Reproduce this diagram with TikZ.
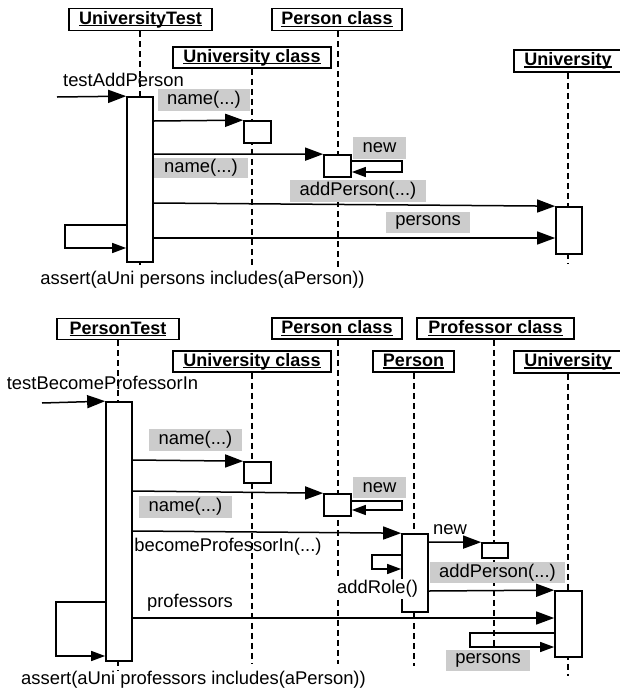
\documentclass[tikz,border=0pt]{standalone}
\usepackage{fontspec}
\setmainfont{Liberation Sans}
\usetikzlibrary{arrows.meta}
\newcommand\txtfont{\fontsize{18.4}{20}\selectfont}
\newcommand\hul[1]{\setbox0\hbox{#1}\rlap{\rule[-2.2pt]{\wd0}{1.4pt}}\box0}
\begin{document}
\begin{tikzpicture}[x=1pt,y=-1pt,
  hdr/.style={draw, line width=1.7pt, fill=white, inner sep=0pt, minimum height=22pt, font=\fontsize{18}{20}\selectfont\bfseries},
  life/.style={line width=1.4pt, dash pattern=on 6pt off 4pt},
  act/.style={draw, line width=1.7pt, fill=white, inner sep=0pt},
  msg/.style={line width=1.5pt, -{Triangle[length=18pt,width=13pt]}},
  ret/.style={line width=1.5pt, -{Triangle[length=14pt,width=10pt]}},
  glabel/.style={fill=gray!40, inner sep=0pt, font=\txtfont},
  plabel/.style={inner sep=0pt, font=\txtfont},
  wlabel/.style={fill=white, inner sep=1pt, font=\txtfont}
]
\useasboundingbox[fill=white] (0,0) rectangle (619,694);

% ================= TOP DIAGRAM =================
\node[hdr, minimum width=143pt] (ut) at (140.5,19.5) {\hul{UniversityTest}};
\node[hdr, minimum width=130pt] (pc1) at (337,19.5) {\hul{Person class}};
\node[hdr, minimum width=158pt, minimum height=21pt] (uc1) at (252,57.5) {\hul{University class}};
\node[hdr, minimum width=108pt] (u1) at (568,61) {\hul{University}};

\coordinate (utE) at (140,265);
\coordinate (pc1E) at (338,267);
\coordinate (uc1E) at (252,265);
\coordinate (u1E) at (568,263);
\draw[life] (ut.south -| utE) -- (utE);
\draw[life] (pc1.south -| pc1E) -- (pc1E);
\draw[life] (uc1.south -| uc1E) -- (uc1E);
\draw[life] (u1.south -| u1E) -- (u1E);

\node[act, minimum width=26pt, minimum height=165pt] (utA) at (140,179.5) {};
\node[act, minimum width=27pt, minimum height=22pt] (uc1A) at (257.5,132) {};
\node[act, minimum width=27pt, minimum height=22pt] (pc1A) at (337.5,166) {};
\node[act, minimum width=26pt, minimum height=47pt] (u1A) at (569,230.5) {};

% labels
\node[plabel] (tap) at (123.5,80) {testAddPerson};
\node[glabel, minimum width=92pt, minimum height=22pt] (n1) at (204,100) {name(...)};
\node[glabel, minimum width=94pt, minimum height=20pt] (n2) at (201,168) {name(...)};
\node[glabel, minimum width=53pt, minimum height=22pt] (new1) at (379.5,148) {new};
\node[glabel, minimum width=136pt, minimum height=22pt] (ap1) at (358,191) {addPerson(...)};
\node[glabel, minimum width=84pt, minimum height=21pt] (ps1) at (428,222.5) {persons};
\node[plabel] (as1) at (202.5,280) {assert(aUni persons includes(aPerson))};

% messages
\coordinate (tapS) at (57,97);
\draw[msg] (tapS) -- (utA.north west);
\draw[msg] (utA.east |- 0,121) -- (uc1A.north west);
\draw[msg] (utA.east |- 0,154) -- (pc1A.north west);
\draw[ret] (pc1A.east |- 0,161) -- (402,161) -- (402,172) -- (pc1A.east |- 0,172);
\draw[msg] (utA.east |- 0,203) -- (u1A.north west);
\draw[msg] (utA.east |- 0,238) -- (u1A.west |- 0,238);
\draw[ret] (utA.west |- 0,225) -- (65,225) -- (65,248) -- (utA.west |- 0,248);

% ================= BOTTOM DIAGRAM =================
\node[hdr, minimum width=122pt, minimum height=21pt] (pt) at (118,329) {\hul{PersonTest}};
\node[hdr, minimum width=130pt, minimum height=21pt] (pc2) at (337,328.5) {\hul{Person class}};
\node[hdr, minimum width=157pt, minimum height=21pt] (prc) at (495.5,328.5) {\hul{Professor class}};
\node[hdr, minimum width=158pt, minimum height=21pt] (uc2) at (252,361.5) {\hul{University class}};
\node[hdr, minimum width=81pt, minimum height=21pt] (p) at (413.5,361.5) {\hul{Person}};
\node[hdr, minimum width=108pt] (u2) at (568,362) {\hul{University}};

\coordinate (ptE) at (118,671);
\coordinate (uc2E) at (252,664);
\coordinate (pc2E) at (338,664);
\coordinate (pE) at (414,666);
\coordinate (prcE) at (494,668);
\coordinate (u2E) at (568,676);
\draw[life] (pt.south -| ptE) -- (ptE);
\draw[life] (uc2.south -| uc2E) -- (uc2E);
\draw[life] (pc2.south -| pc2E) -- (pc2E);
\draw[life] (p.south -| pE) -- (pE);
\draw[life] (prc.south -| prcE) -- (prcE);
\draw[life] (u2.south -| u2E) -- (u2E);

\node[plabel] (bpi) at (228,547) {becomeProfessorIn(...)};

\node[act, minimum width=26pt, minimum height=259pt] (ptA) at (119,531.5) {};
\node[act, minimum width=27pt, minimum height=21pt] (uc2A) at (257.5,472.5) {};
\node[act, minimum width=27pt, minimum height=22pt] (pc2A) at (337.5,505) {};
\node[act, minimum width=26pt, minimum height=78pt] (pA) at (415,573) {};
\node[act, minimum width=26pt, minimum height=15pt] (prcA) at (495,550.5) {};
\node[act, minimum width=27pt, minimum height=66pt] (u2A) at (568.5,624) {};

\node[plabel] (tbp) at (102.5,383) {testBecomeProfessorIn};
\node[glabel, minimum width=93pt, minimum height=22pt] (n3) at (195.5,440) {name(...)};
\node[glabel, minimum width=93pt, minimum height=22pt] (n4) at (185.5,507) {name(...)};
\node[glabel, minimum width=53pt, minimum height=21pt] (new2) at (379.5,487.5) {new};
\node[plabel] (new3) at (450,530) {new};
\node[glabel, minimum width=135pt, minimum height=21pt] (ap2) at (497.5,572.5) {addPerson(...)};
\node[plabel] (prof) at (190,603) {professors};
\node[glabel, minimum width=84pt, minimum height=21pt] (ps2) at (488,660.5) {persons};
\node[plabel] (as2) at (193.5,680) {assert(aUni professors includes(aPerson))};

\coordinate (tbpS) at (42,403);
\draw[msg] (tbpS) -- (ptA.north west);
\draw[msg] (ptA.east |- 0,460) -- (uc2A.north west);
\draw[msg] (ptA.east |- 0,491) -- (pc2A.north west);
\draw[ret] (pc2A.east |- 0,501) -- (402,501) -- (402,510) -- (pc2A.east |- 0,510);
\draw[msg] (ptA.east |- 0,531) -- (pA.north west);
\draw[msg] (pA.east |- 0,542) -- (prcA.north west);
\draw[ret] (pA.west |- 0,555) -- (372,555) -- (372,569) -- (pA.west |- 0,569);
\node[wlabel] (ar) at (377.5,589) {addRole()};
\draw[msg] (pA.east |- 0,591) -- (u2A.north west);
\draw[msg] (ptA.east |- 0,618) -- (u2A.west |- 0,618);
\draw[ret] (ptA.west |- 0,602) -- (56,602) -- (56,656) -- (ptA.west |- 0,656);
\draw[ret] (u2A.west |- 0,633) -- (470,633) -- (470,647) -- (u2A.west |- 0,647);
\end{tikzpicture}
\end{document}
